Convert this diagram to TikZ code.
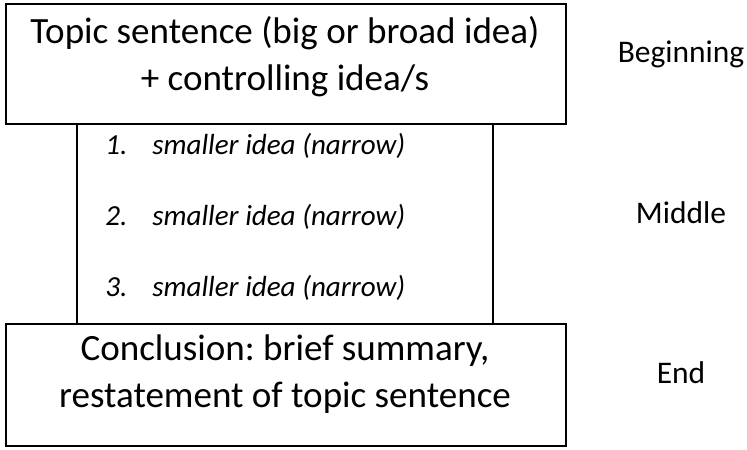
\documentclass[tikz,border=0pt]{standalone}
\usepackage{fontspec}
\setmainfont{Carlito}
\usetikzlibrary{positioning}
\frenchspacing

\tikzset{
	box/.style={draw, line width=1.6pt, rectangle, outer sep=0pt, inner sep=0pt},
	bigtext/.style={font=\fontsize{27.8}{35}\selectfont, anchor=base, inner sep=0pt},
	smalltext/.style={font=\fontsize{21.8}{26}\selectfont\itshape, anchor=base west, inner sep=0pt},
	parttext/.style={font=\fontsize{23.6}{29}\selectfont, anchor=base, inner sep=0pt}
}

\begin{document}
\begin{tikzpicture}[x=0.75pt, y=-0.75pt]
	\useasboundingbox (0,0) rectangle (747,450);
	% boxes
	\node[box, minimum width=312pt, minimum height=150pt] (midbox) at (285,224) {};
	\node[box, minimum width=420pt, minimum height=90pt] (topbox) at (286,64) {};
	\node[box, minimum width=420pt, minimum height=91.5pt] (endbox) at (286,385) {};
	% texts of the boxes
	\node[bigtext] (topline1) at (285,43) {Topic sentence (big or broad idea)};
	\node[bigtext] (topline2) at (285,90) {+ controlling idea/s};
	\node[bigtext] (endline1) at (285,360) {Conclusion: brief summary,};
	\node[bigtext] (endline2) at (285,407) {restatement of topic sentence};
	\foreach \i in {1,2,3} {
		\node[smalltext] (num\i) at (105,{154+71*(\i-1)}) {\i.};
		\node[smalltext] (item\i) at (152,{154+71*(\i-1)}) {smaller idea (narrow)};
	}
	% parts
	\node[parttext] (beginning) at (681,62.7) {Beginning};
	\node[parttext] (middle) at (681,223) {Middle};
	\node[parttext] (end) at (681,383) {End};
\end{tikzpicture}
\end{document}
